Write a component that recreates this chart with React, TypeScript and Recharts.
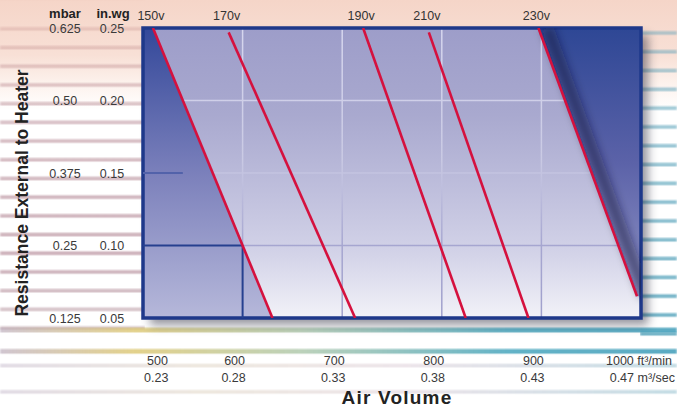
import { ComposedChart, Line, Area, XAxis, YAxis, CartesianGrid, ReferenceLine, ReferenceArea } from 'recharts';

// fan speed curves (air volume ft³/min vs resistance in.wg)
const voltages = ['150v', '170v', '190v', '210v', '230v'];
const topFlow = [510, 586, 721, 787, 897];
const topRes = [0.25, 0.247, 0.25, 0.247, 0.25];
const bottomFlow = [630, 713, 824, 887, 996];
const bottomRes = [0.05, 0.05, 0.05, 0.05, 0.065];

const flowTicks = [500, 600, 700, 800, 900, 1000];
const flowLabels = ['500', '600', '700', '800', '900', '1000 ft³/min'];
const m3Labels = ['0.23', '0.28', '0.33', '0.38', '0.43', '0.47 m³/sec'];

const inwgTicks = [0.05, 0.1, 0.15, 0.2, 0.25];
const inwgLabels = ['0.05', '0.10', '0.15', '0.20', '0.25'];
const mbarLabels = ['0.125', '0.25', '0.375', '0.50', '0.625'];

const dutyFlow = 600;
const dutyRes = 0.1;

const fanLines = voltages.map((_, i) => [
  { x: topFlow[i], y: topRes[i] },
  { x: bottomFlow[i], y: bottomRes[i] },
]);

const leftZone = [{ x: 500, y: topRes[0] }, ...fanLines[0]];
const rightZone = [
  { x: topFlow[4], y: [topRes[4], 0.25] },
  { x: bottomFlow[4], y: [bottomRes[4], 0.25] },
  { x: 1000, y: [bottomRes[4], 0.25] },
];

const FONT = '"Liberation Sans", Arial, Helvetica, sans-serif';

const FlowTick = ({ x, y, payload }: any) => {
  const i = flowTicks.indexOf(payload.value);
  const last = i === flowTicks.length - 1;
  const first = i === 0;
  const anchor = first ? 'start' : last ? 'end' : 'middle';
  const x1 = first ? x + 4 : last ? x + 31 : x - 8;
  const x2 = first ? x + 1 : last ? x + 34 : x - 9;
  return (
    <g fontFamily={FONT} fontSize={12.5} fill="#3a3a3a">
      <text x={x1} y={y + 47} textAnchor={anchor}>{flowLabels[i]}</text>
      <text x={x2} y={y + 64} textAnchor={anchor}>{m3Labels[i]}</text>
    </g>
  );
};

const ResTick = ({ y, payload }: any) => {
  const i = inwgTicks.indexOf(payload.value);
  return (
    <g fontFamily={FONT} fontSize={12.5} fill="#3a3a3a">
      <text x={65} y={y + 4.5} textAnchor="middle">{mbarLabels[i]}</text>
      <text x={112} y={y + 4.5} textAnchor="middle">{inwgLabels[i]}</text>
    </g>
  );
};

const VoltLabel = (name: string) => (props: any) => {
  if (props.index !== 0) return null;
  return (
    <text x={props.x - 2} y={20} textAnchor="middle" fontFamily={FONT} fontSize={12.5} fill="#333">
      {name}
    </text>
  );
};

const stripes = (period: number, thick: number) =>
  `repeating-linear-gradient(to bottom, transparent 0px, transparent ${period - thick - 2}px, #000 ${period - thick + 0.5}px, #000 ${period - 2}px, transparent ${period}px)`;

function Backdrop() {
  const band = (style: any, color: string, period: number, thick: number, shift: number) => (
    <div
      style={{
        position: 'absolute',
        background: color,
        WebkitMaskImage: stripes(period, thick),
        maskImage: stripes(period, thick),
        WebkitMaskPosition: `0 ${shift}px`,
        maskPosition: `0 ${shift}px`,
        filter: 'blur(1px)',
        ...style,
      }}
    />
  );
  return (
    <>
      <div
        style={{
          position: 'absolute', inset: 0,
          background: 'linear-gradient(to bottom, #f5d5c8 0px, #f8e0d6 55px, #fdf3ee 85px, #ffffff 110px, #ffffff 100%)',
        }}
      />
      {band({ left: 0, top: 0, width: 145, height: 330 },
        'linear-gradient(to bottom, rgba(220,170,160,0.3) 0px, rgba(160,100,115,0.38) 120px, rgba(150,90,110,0.45) 260px, rgba(160,120,130,0.35) 330px)',
        18.7, 4, 13)}
      {band({ left: 640, top: 8, width: 37, height: 330 },
        'linear-gradient(to bottom, rgba(110,170,190,0.45), rgba(60,150,178,0.7))',
        18.8, 4, 9)}
      {band({ left: 0, top: 322, width: 677, height: 40 },
        'linear-gradient(to right, rgba(170,150,170,0.55) 0%, rgba(215,190,90,0.7) 20%, rgba(150,185,150,0.65) 45%, rgba(60,160,185,0.8) 75%, rgba(50,150,180,0.8) 100%)',
        18.7, 5, 14)}
      {band({ left: 0, top: 362, width: 677, height: 45 },
        'linear-gradient(to right, rgba(160,140,170,0.3) 0%, rgba(200,180,150,0.3) 30%, rgba(190,160,180,0.28) 60%, rgba(110,170,190,0.4) 100%)',
        18.7, 4, 14)}
      <div
        style={{
          position: 'absolute', left: 143, top: 28, width: 498, height: 290,
          boxShadow: '7px 7px 9px rgba(20,20,40,0.45)',
        }}
      />
    </>
  );
}

export default function App() {
  return (
    <div style={{ position: 'absolute', left: 0, top: 0, width: 677, height: 407, overflow: 'hidden', fontFamily: FONT }}>
      <Backdrop />
      <div style={{ position: 'absolute', left: 0, top: 0 }}>
        <ComposedChart width={677} height={407} margin={{ top: 28, right: 36, bottom: 0, left: 0 }}>
          <defs>
            <linearGradient id="plotBg" x1="0" y1="0" x2="0" y2="1">
              <stop offset="0%" stopColor="#9d9dc9" />
              <stop offset="30%" stopColor="#a9a9cf" />
              <stop offset="55%" stopColor="#bebedc" />
              <stop offset="78%" stopColor="#d3d3e8" />
              <stop offset="100%" stopColor="#f2f2f8" />
            </linearGradient>
            <linearGradient id="leftBg" x1="0" y1="0" x2="0" y2="1">
              <stop offset="0%" stopColor="#33489a" />
              <stop offset="50%" stopColor="#7b80bb" />
              <stop offset="100%" stopColor="#b6b8da" />
            </linearGradient>
            <linearGradient id="rightBg" x1="0" y1="0" x2="0" y2="1">
              <stop offset="0%" stopColor="#2e4795" />
              <stop offset="50%" stopColor="#5b62a8" />
              <stop offset="100%" stopColor="#9194c7" />
            </linearGradient>
            <linearGradient id="gridStroke" gradientUnits="userSpaceOnUse" x1="0" y1="28" x2="0" y2="318">
              <stop offset="0%" stopColor="#d6d6ee" />
              <stop offset="45%" stopColor="#cacae4" />
              <stop offset="75%" stopColor="#a6a6d0" />
              <stop offset="100%" stopColor="#a0a0cc" />
            </linearGradient>
            <filter id="lineShadow" x="-50%" y="-50%" width="200%" height="200%">
              <feOffset dx="9" dy="0" />
              <feGaussianBlur stdDeviation="4.5" />
            </filter>
          </defs>
          <XAxis
            dataKey="x"
            type="number"
            domain={[500, 1000]}
            ticks={flowTicks}
            interval={0}
            allowDataOverflow
            axisLine={false}
            tickLine={false}
            tickSize={0}
            tickMargin={0}
            height={89}
            tick={<FlowTick />}
          />
          <YAxis
            type="number"
            domain={[0.05, 0.25]}
            ticks={inwgTicks}
            interval={0}
            allowDataOverflow
            axisLine={false}
            tickLine={false}
            tickSize={0}
            tickMargin={0}
            width={143}
            tick={<ResTick />}
          />
          <CartesianGrid horizontal={false} vertical={false} fill="url(#plotBg)" fillOpacity={1} />
          <Area data={leftZone} dataKey="y" type="linear" stroke="none" fill="url(#leftBg)" fillOpacity={1} isAnimationActive={false} />
          <Area data={rightZone} dataKey="y" type="linear" stroke="none" fill="url(#rightBg)" fillOpacity={1} isAnimationActive={false} />
          <CartesianGrid stroke="url(#gridStroke)" strokeWidth={1.5} strokeDasharray="" />
          <Line
            data={fanLines[4]}
            dataKey="y"
            type="linear"
            stroke="#1c1c3a"
            strokeOpacity={0.5}
            strokeWidth={12}
            dot={false}
            filter="url(#lineShadow)"
            isAnimationActive={false}
          />
          <ReferenceLine segment={[{ x: 500, y: 0.15 }, { x: 540, y: 0.15 }]} stroke="#5262aa" strokeWidth={2} />
          <ReferenceLine segment={[{ x: 500, y: dutyRes }, { x: dutyFlow, y: dutyRes }]} stroke="#26408f" strokeWidth={2} />
          <ReferenceLine segment={[{ x: dutyFlow, y: 0.05 }, { x: dutyFlow, y: dutyRes }]} stroke="#26408f" strokeWidth={2} />
          {fanLines.map((pts, i) => (
            <Line
              key={voltages[i]}
              data={pts}
              dataKey="y"
              type="linear"
              stroke="#d5113e"
              strokeWidth={2.6}
              dot={false}
              label={VoltLabel(voltages[i])}
              isAnimationActive={false}
            />
          ))}
          <ReferenceArea
            x1={500}
            x2={1000}
            y1={0.05}
            y2={0.25}
            fill="none"
            stroke="#1e388a"
            strokeWidth={3.5}
            ifOverflow="visible"
          />
        </ComposedChart>
      </div>
      <svg width={677} height={407} style={{ position: 'absolute', left: 0, top: 0, pointerEvents: 'none' }}>
        <g fontFamily={FONT} fontWeight="bold" fill="#222">
          <text x={65} y={18} fontSize={13} textAnchor="middle">mbar</text>
          <text x={113} y={18} fontSize={13} textAnchor="middle">in.wg</text>
          <text x={28} y={193} fontSize={17.5} textAnchor="middle" transform="rotate(-90 28 193)">
            Resistance External to Heater
          </text>
          <text x={397} y={404} fontSize={19} letterSpacing={1.2} textAnchor="middle">Air Volume</text>
        </g>
      </svg>
    </div>
  );
}
